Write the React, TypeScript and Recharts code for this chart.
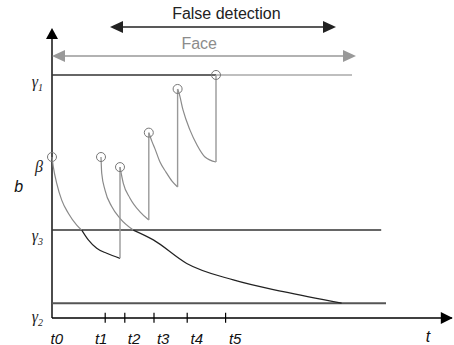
import {
  ComposedChart,
  Line,
  ReferenceDot,
  ReferenceLine,
  Scatter,
  XAxis,
  YAxis,
} from 'recharts';

// thresholds on the b axis
const levelNames = ['γ2', 'γ3', 'β', 'γ1'];
const levelValues = [5.3, 31.4, 57.5, 86.8];
const [G2, G3, , G1] = levelValues;

// time axis: tick marks and their labels
const tickTimes = [13.3, 18.2, 25.5, 33.8, 43.4];
const tickLabels = ['t0', 't1', 't2', 't3', 't4', 't5'];
const tickLabelTimes = [1.2, 12.3, 20.5, 27.8, 36.2, 45.8];

// restart points (open circles)
const restartT = [0, 12.25, 17, 24.2, 31.4, 41];
const restartB = [57.5, 57.5, 53.9, 66.2, 81.8, 86.8];

// decaying b curves, [t, b]
const decayA1 = [[0, 57.5], [0.33, 54.0], [1.18, 48.1], [2.43, 42.1], [4.08, 37.4], [6.18, 33.2], [7.43, 31.4]];
const decayA2 = [[7.43, 31.4], [9.08, 27.9], [11.18, 24.9], [13.68, 23.1], [17, 21.3]];
const decayB1 = [[12.25, 57.5], [12.43, 51.7], [13.25, 45.7], [14.93, 39.8], [17, 35.6], [20.33, 31.4]];
const decayB2 = [[20.33, 31.4], [25.33, 27.9], [33.68, 19.5], [45.33, 13.6], [57.83, 9.4], [72.4, 5.3]];
const decayC = [[17, 53.9], [17.83, 48.1], [19.5, 42.8], [22, 37.9], [24.2, 35]];
const decayD = [[24.2, 66.2], [25, 63], [25.75, 60.4], [27, 55.7], [28.5, 52.1], [30, 48.9], [31.4, 46.8]];
const decayE = [[31.4, 81.8], [31.75, 80.4], [32.75, 74.3], [34.5, 67.1], [36.25, 61.8], [38.25, 57.5], [41, 55.7]];

// jumps back up to the next restart
const jumps = [
  [[17, 21.3], [17, 53.9]],
  [[24.2, 35], [24.2, 66.2]],
  [[31.4, 46.8], [31.4, 81.8]],
  [[41, 55.7], [41, 86.8]],
];

// horizontal extents
const g1DarkEnd = 41;
const g1End = 75;
const g3End = 82.3;
const g2End = 83.5;

// interval arrows on top: [start, end, level]
const falseDetection = [14.5, 71, 103.9];
const face = [0, 76, 93.6];
const axisTop = 103.6;
const axisRight = 100.2;

const toPts = (arr: number[][]) => arr.map(([t, b]) => ({ t, b }));
const circles = restartT.map((t, i) => ({ t, b: restartB[i] }));

const sans = '"Liberation Sans", Arial, sans-serif';
const serif = '"Liberation Serif", "Times New Roman", serif';

const levelDy: Record<string, number> = { 'γ2': 14, 'γ3': 6, 'β': 10, 'γ1': 7 };

function LevelTick({ x, y, index }: any) {
  const name = levelNames[index];
  const main = name[0];
  const sub = name.slice(1);
  return (
    <text
      x={x - 9}
      y={y + levelDy[name] + 5}
      textAnchor="end"
      fontFamily={serif}
      fontStyle="italic"
      fontSize={16}
      fill="#222"
    >
      <tspan>{main}</tspan>
      {sub && (
        <tspan dy={4} fontSize={10}>
          {sub}
        </tspan>
      )}
    </text>
  );
}

function TimeTick({ x, y, index }: any) {
  return (
    <text
      x={x}
      y={y + 20}
      textAnchor="middle"
      dominantBaseline="central"
      fontFamily={sans}
      fontStyle="italic"
      fontSize={15}
      fill="#111"
    >
      {tickLabels[index]}
    </text>
  );
}

const arrowHead = (dir: 'left' | 'right' | 'up', color: string, len = 13, half = 6) =>
  (props: any) => {
    const { cx, cy } = props;
    let pts = '';
    if (dir === 'left') pts = `${cx},${cy} ${cx + len},${cy - half} ${cx + len},${cy + half}`;
    if (dir === 'right') pts = `${cx},${cy} ${cx - len},${cy - half} ${cx - len},${cy + half}`;
    if (dir === 'up') pts = `${cx},${cy} ${cx - half},${cy + len} ${cx + half},${cy + len}`;
    return <polygon points={pts} fill={color} />;
  };

const textMark = (label: string, color: string, size: number, italic = false) =>
  (props: any) => (
    <text
      x={props.cx}
      y={props.cy}
      textAnchor="middle"
      dominantBaseline="central"
      fontFamily={sans}
      fontStyle={italic ? 'italic' : 'normal'}
      fontSize={size}
      fill={color}
    >
      {label}
    </text>
  );

const ring = (props: any) => (
  <circle cx={props.cx} cy={props.cy} r={4.5} fill="none" stroke="#777" strokeWidth={1} />
);

export default function App() {
  const grey = '#8a8a8a';
  const dark = '#222';
  return (
    <div style={{ position: 'absolute', left: 0, top: 0, background: '#fff' }}>
      <ComposedChart width={454} height={345} margin={{ top: 10, right: 2, bottom: 0, left: 0 }}>
        <XAxis
          type="number"
          dataKey="t"
          domain={[0, 100]}
          ticks={tickLabelTimes}
          interval={0}
          height={27}
          tickSize={0}
          tickMargin={0}
          tickLine={false}
          axisLine={{ stroke: '#000', strokeWidth: 1.4 }}
          tick={<TimeTick />}
        />
        <YAxis
          type="number"
          dataKey="b"
          domain={[0, 110]}
          ticks={levelValues}
          interval={0}
          width={52}
          tickSize={0}
          tickMargin={0}
          tickLine={false}
          axisLine={false}
          tick={<LevelTick />}
        />

        {/* y axis */}
        <ReferenceLine segment={[{ x: 0, y: 0 }, { x: 0, y: axisTop - 3 }]} stroke="#000" strokeWidth={1.4} ifOverflow="visible" />
        <ReferenceDot x={0} y={axisTop} ifOverflow="visible" shape={arrowHead('up', '#000', 11, 6)} />
        <ReferenceDot x={axisRight} y={0} ifOverflow="visible" shape={arrowHead('right', '#000', 12, 6)} />

        {/* thresholds */}
        <ReferenceLine segment={[{ x: 0, y: G1 }, { x: g1DarkEnd, y: G1 }]} stroke="#333" strokeWidth={1.6} ifOverflow="visible" />
        <ReferenceLine segment={[{ x: g1DarkEnd, y: G1 }, { x: g1End, y: G1 }]} stroke="#aaa" strokeWidth={1.6} ifOverflow="visible" />
        <ReferenceLine segment={[{ x: 0, y: G3 }, { x: g3End, y: G3 }]} stroke="#333" strokeWidth={1.5} ifOverflow="visible" />
        <ReferenceLine segment={[{ x: 0, y: G2 }, { x: g2End, y: G2 }]} stroke="#555" strokeWidth={2} ifOverflow="visible" />

        {/* tick marks */}
        {tickTimes.map((t) => (
          <ReferenceLine key={t} segment={[{ x: t, y: -1.7 }, { x: t, y: 1.9 }]} stroke="#000" strokeWidth={1.2} ifOverflow="visible" />
        ))}

        {/* interval arrows */}
        <ReferenceLine segment={[{ x: falseDetection[0] + 2, y: falseDetection[2] }, { x: falseDetection[1] - 2, y: falseDetection[2] }]} stroke={dark} strokeWidth={1.5} ifOverflow="visible" />
        <ReferenceDot x={falseDetection[0]} y={falseDetection[2]} ifOverflow="visible" shape={arrowHead('left', dark)} />
        <ReferenceDot x={falseDetection[1]} y={falseDetection[2]} ifOverflow="visible" shape={arrowHead('right', dark)} />
        <ReferenceLine segment={[{ x: face[0] + 2, y: face[2] }, { x: face[1] - 2, y: face[2] }]} stroke="#999" strokeWidth={1.5} ifOverflow="visible" />
        <ReferenceDot x={face[0]} y={face[2]} ifOverflow="visible" shape={arrowHead('left', '#999')} />
        <ReferenceDot x={face[1]} y={face[2]} ifOverflow="visible" shape={arrowHead('right', '#999')} />

        <ReferenceDot x={43.6} y={108.6} ifOverflow="visible" shape={textMark('False detection', dark, 16)} />
        <ReferenceDot x={36.8} y={98.2} ifOverflow="visible" shape={textMark('Face', '#8c8c8c', 16)} />
        <ReferenceDot x={-8.3} y={47.1} ifOverflow="visible" shape={textMark('b', '#111', 16, true)} />
        <ReferenceDot x={94} y={-6.6} ifOverflow="visible" shape={textMark('t', '#111', 16, true)} />

        {/* curves */}
        <Line data={toPts(decayA1)} dataKey="b" type="monotone" stroke={grey} strokeWidth={1.2} dot={false} isAnimationActive={false} />
        <Line data={toPts(decayA2)} dataKey="b" type="monotone" stroke={dark} strokeWidth={1.2} dot={false} isAnimationActive={false} />
        <Line data={toPts(decayB1)} dataKey="b" type="monotone" stroke={grey} strokeWidth={1.2} dot={false} isAnimationActive={false} />
        <Line data={toPts(decayB2)} dataKey="b" type="monotone" stroke={dark} strokeWidth={1.2} dot={false} isAnimationActive={false} />
        <Line data={toPts(decayC)} dataKey="b" type="monotone" stroke={grey} strokeWidth={1.2} dot={false} isAnimationActive={false} />
        <Line data={toPts(decayD)} dataKey="b" type="monotone" stroke={grey} strokeWidth={1.2} dot={false} isAnimationActive={false} />
        <Line data={toPts(decayE)} dataKey="b" type="monotone" stroke={grey} strokeWidth={1.2} dot={false} isAnimationActive={false} />
        {jumps.map((j, i) => (
          <Line key={i} data={toPts(j)} dataKey="b" type="linear" stroke="#999" strokeWidth={1.4} dot={false} isAnimationActive={false} />
        ))}

        <Scatter data={circles} dataKey="b" shape={ring} isAnimationActive={false} />
      </ComposedChart>
    </div>
  );
}
